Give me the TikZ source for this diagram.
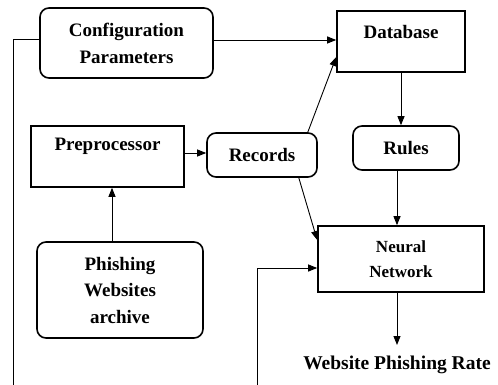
\documentclass[tikz,border=0pt]{standalone}
\usepackage{fontspec}
\setmainfont{Liberation Serif}
\usetikzlibrary{arrows.meta,calc}
\begin{document}
\begin{tikzpicture}[x=1pt,y=-1pt,
  lbl/.style={font=\bfseries\fontsize{19}{27}\selectfont,align=center},
  rbox/.style={draw,line width=1.6pt,rounded corners=9pt,lbl},
  sbox/.style={draw,line width=1.6pt,lbl},
  conn/.style={line width=0.9pt,-{Triangle[length=9pt,width=7pt]}},
  plain/.style={line width=0.9pt}]
\useasboundingbox (0,0) rectangle (498,385);
\node[rbox,minimum width=173pt,minimum height=70pt] (cfg) at (126.5,43) {Configuration\\Parameters};
\node[sbox,minimum width=128pt,minimum height=61pt] (db) at (401,41.5) {};
\node[lbl] (dbt) at (401,32) {Database};
\node[sbox,minimum width=153pt,minimum height=61pt] (pre) at (107.5,156.5) {};
\node[lbl] (pret) at (107.5,146) {Preprocessor};
\node[rbox,minimum width=110pt,minimum height=44pt] (rec) at (262,155) {Records};
\node[rbox,minimum width=106pt,minimum height=44pt] (rules) at (406,148) {Rules};
\node[sbox,minimum width=166pt,minimum height=66pt,font=\bfseries\fontsize{17}{25}\selectfont] (nn) at (401,259) {Neural\\Network};
\node[rbox,minimum width=166pt,minimum height=96pt,font=\bfseries\fontsize{19}{26.5}\selectfont] (arc) at (120,290) {Phishing\\Websites\\archive};
\node[lbl,inner sep=0pt,font=\bfseries\fontsize{19.5}{22}\selectfont] (out) at (397,365) {Website Phishing Rate};
\coordinate (lt) at (13,39);
\coordinate (lb) at (13,385);
\coordinate (bb) at (257,385);
\coordinate (bt) at (257,268);
\draw[plain] (cfg.west |- 0,39) -- (lt) -- (lb);
\draw[conn] (cfg.east |- 0,40) -- (db.west |- 0,40);
\draw[conn] ($(rec.north east)+(-10,0)$) -- (db.west |- 0,57);
\draw[conn] (pre.east |- 0,153) -- (rec.west |- 0,153);
\draw[conn] (db.south) -- (rules.north -| db.south);
\draw[conn] (rules.south -| 397,0) -- (nn.north -| 397,0);
\draw[conn] ($(rec.south east)+(-19,0)$) -- (nn.west |- 0,240);
\draw[conn] (bb) -- (bt) -- (nn.west |- bt);
\draw[conn] (arc.north -| 112,0) -- (pre.south -| 112,0);
\draw[conn] (nn.south -| 397,0) -- (397,345);
\end{tikzpicture}
\end{document}
